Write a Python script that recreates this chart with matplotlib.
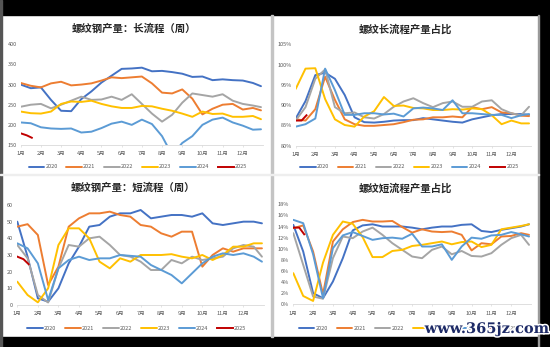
"""
Rebar weekly output dashboard: long process / short process (2x2 panels)
"""

import numpy as np
import matplotlib
matplotlib.use("Agg")
import matplotlib.pyplot as plt
from matplotlib.patches import Rectangle
from matplotlib import patheffects

plt.rcParams["font.family"] = ["Noto Sans CJK SC", "DejaVu Sans"]

# ---------------------------------------------------------------------------
# DATA (half-month steps, x in months from 1月)
# ---------------------------------------------------------------------------
X = [0, 0.5, 1, 1.5, 2, 2.5, 3, 3.5, 4, 4.5, 5, 5.5, 6, 6.5, 7, 7.5, 8,
     8.5, 9, 9.5, 10, 10.5, 11, 11.5, 11.9]
X_2025 = [0, 0.3, 0.55]

YEARS = ["2020", "2021", "2022", "2023", "2024", "2025"]
COLORS = ["#4472C4", "#ED7D31", "#A5A5A5", "#FFC000", "#5B9BD5", "#C00000"]
MONTHS = [f"{m}月" for m in range(1, 13)]

# long process output
long_2020 = [300, 291, 293, 262, 235, 234, 264, 283, 305, 322, 339, 340, 342,
             333, 334, 331, 327, 319, 320, 311, 313, 311, 310, 304, 296]
long_2021 = [304, 297, 293, 303, 307, 298, 300, 303, 310, 318, 316, 318, 320,
             303, 280, 278, 288, 265, 226, 240, 250, 252, 238, 242, 236]
long_2022 = [245, 250, 252, 241, 250, 260, 270, 262, 263, 270, 262, 276, 252,
             228, 208, 225, 255, 278, 274, 270, 276, 260, 252, 248, 244]
long_2023 = [233, 229, 228, 233, 252, 258, 257, 260, 252, 246, 242, 242, 247,
             246, 240, 235, 228, 220, 233, 227, 228, 220, 220, 222, 214]
long_2024 = [206, 204, 194, 191, 190, 191, 181, 183, 192, 203, 208, 200, 213,
             202, 172, 125, 155, 172, 200, 213, 218, 206, 198, 188, 189]
long_2025 = [179, 174, 168]

# long process share (%)
lshare_2020 = [86.7, 91.0, 97.4, 98.0, 96.5, 92.5, 87.0, 85.8, 85.7, 85.9, 86.2,
               86.3, 86.3, 86.8, 86.5, 86.2, 85.9, 85.7, 86.5, 87.0, 87.5, 87.8,
               87.8, 87.8, 87.6]
lshare_2021 = [86.5, 86.2, 89.0, 97.0, 91.3, 86.5, 85.3, 84.9, 84.9, 85.1, 85.3,
               85.8, 86.4, 86.5, 87.0, 87.0, 87.2, 87.0, 89.5, 89.0, 89.5, 88.2,
               88.0, 87.4, 87.3]
lshare_2022 = [86.2, 89.5, 96.5, 98.8, 89.5, 88.0, 88.2, 87.0, 86.7, 87.8, 89.6,
               90.9, 91.7, 90.5, 89.5, 90.5, 90.9, 89.6, 89.6, 90.9, 91.2, 89.0,
               88.0, 87.5, 89.6]
lshare_2023 = [94.0, 99.0, 99.1, 91.5, 86.5, 85.1, 84.7, 87.2, 88.5, 92.0, 89.8,
               89.9, 89.3, 89.2, 88.8, 88.8, 89.0, 88.9, 89.2, 89.0, 87.5, 85.3,
               86.2, 85.5, 85.5]
lshare_2024 = [84.7, 85.3, 86.7, 99.0, 93.7, 87.6, 87.6, 88.0, 88.0, 87.7, 87.9,
               87.2, 89.2, 89.4, 89.2, 88.8, 91.2, 88.0, 88.0, 87.8, 87.6, 87.6,
               86.8, 87.5, 87.8]
lshare_2025 = [86.2, 86.2, 87.5]

# short process output
short_2020 = [50, 29, 4, 2, 10, 25, 35, 47, 48, 53, 55, 55, 57, 52, 53, 54, 54,
              53, 55, 49, 48, 49, 50, 50, 49]
short_2021 = [47, 48.5, 42, 12, 23, 47, 52, 55, 55, 56, 54, 53, 48, 47, 43, 41,
              44, 44, 23, 30, 34, 32, 34, 34, 34]
short_2022 = [36, 28, 6, 1.5, 22, 36, 35, 40, 41, 36, 30, 29, 26, 21, 21, 27,
              25, 29, 27, 28, 29, 34, 36, 35, 29]
short_2023 = [14, 6, 1.6, 10, 36, 46, 46, 40, 26, 22, 28, 26, 30, 30, 30, 30.5,
              29, 28, 30, 27, 30, 35, 35, 37, 37]
short_2024 = [37, 34, 25, 3, 22, 27, 29, 27, 28, 28, 30, 29.5, 29, 24, 21, 18,
              13, 19, 25, 29, 31, 30, 31, 29, 26]
short_2025 = [29, 27.5, 24.5]

# short process share (%)
sshare_2020 = [14.3, 9.5, 2.0, 1.1, 4.1, 8.3, 13.3, 14.2, 14.4, 14.0, 14.0,
               14.0, 13.8, 13.5, 13.8, 14.0, 14.0, 14.3, 14.4, 13.2, 13.0, 13.4,
               13.7, 14.0, 14.4]
sshare_2021 = [13.7, 14.2, 9.5, 1.8, 11.3, 13.5, 14.8, 15.2, 14.9, 14.9, 15.0,
               13.9, 12.9, 13.5, 13.1, 13.0, 13.1, 12.5, 9.7, 11.0, 10.8, 12.2,
               12.3, 12.8, 12.5]
sshare_2022 = [12.8, 7.1, 1.4, 1.0, 8.3, 12.2, 11.9, 13.1, 13.8, 12.5, 11.0,
               9.8, 8.6, 8.3, 9.8, 10.4, 9.0, 9.6, 8.7, 8.6, 9.2, 10.7, 11.9,
               12.5, 10.7]
sshare_2023 = [5.6, 1.5, 0.6, 7.5, 12.5, 14.9, 14.5, 12.1, 8.5, 8.5, 9.6, 9.8,
               10.5, 10.7, 11.0, 11.3, 10.8, 11.2, 11.3, 10.3, 10.7, 13.5, 13.8,
               14.1, 14.4]
sshare_2024 = [15.2, 14.6, 9.0, 1.1, 10.1, 12.4, 13.0, 12.3, 11.6, 11.9, 12.0,
               11.8, 12.7, 10.4, 10.4, 10.8, 8.0, 10.4, 12.0, 11.8, 12.4, 12.5,
               13.0, 12.6, 12.2]
sshare_2025 = [13.8, 13.8, 12.6]

# ---------------------------------------------------------------------------
# FIGURE / PANEL LAYOUT (pixel based, 550x347)
# ---------------------------------------------------------------------------
W, H = 550, 347
fig = plt.figure(figsize=(W / 100, H / 100), dpi=100, facecolor="white")


def px_rect(x0, y0, x1, y1):
    # pixel box (top-left origin) -> figure fraction [left, bottom, w, h]
    return [x0 / W, 1 - y1 / H, (x1 - x0) / W, (y1 - y0) / H]


# black frame around the screenshot
for box in [(0, 0, W, 15), (0, 337, W, H), (539, 0, W, H)]:
    fig.add_artist(Rectangle(px_rect(*box)[:2], *px_rect(*box)[2:],
                             transform=fig.transFigure, color="black", zorder=0))
fig.add_artist(Rectangle((0, 0), 1.5 / W, 1, transform=fig.transFigure,
                         color="#555555", zorder=0))
fig.add_artist(Rectangle((538 / W, 0), 1.2 / W, 1 - 15 / H, transform=fig.transFigure,
                         color="#9a9a9a", zorder=0))
# panel separators
fig.add_artist(Rectangle((271 / W, 10 / H), 1.5 / W, 1 - 25 / H,
                         transform=fig.transFigure, color="#c4c4c4", zorder=0))
fig.add_artist(Rectangle((0, 1 - 175 / H), 539 / W, 1 / H,
                         transform=fig.transFigure, color="#eeeeee", zorder=0))

panels = [
    # (plot box px, title, title pos, legend y, series, 2025, ylim, yticks, fmt)
    ((20.7, 44.3, 263, 145), "螺纹钢产量：长流程（周）", (134, 29), 167,
     [long_2020, long_2021, long_2022, long_2023, long_2024], long_2025,
     (150, 400), range(150, 401, 50), "{:.0f}"),
    ((295.7, 44.3, 531, 145.7), "螺纹长流程产量占比", (405, 29), 167,
     [lshare_2020, lshare_2021, lshare_2022, lshare_2023, lshare_2024], lshare_2025,
     (80, 105), range(80, 106, 5), "{:.0f}%"),
    ((17.3, 205, 264, 305), "螺纹钢产量：短流程（周）", (133, 188), 328,
     [short_2020, short_2021, short_2022, short_2023, short_2024], short_2025,
     (0, 60), range(0, 61, 10), "{:.0f}"),
    ((293.3, 204.3, 531, 304.3), "螺纹短流程产量占比", (405, 188), 328,
     [sshare_2020, sshare_2021, sshare_2022, sshare_2023, sshare_2024], sshare_2025,
     (0, 18), range(0, 19, 2), "{:.0f}%"),
]

for box, title, tpos, leg_y, series, s2025, ylim, yticks, fmt in panels:
    ax = fig.add_axes(px_rect(*box))
    ax.set_facecolor("none")

    for year, color, vals in zip(YEARS[:5], COLORS[:5], series):
        ax.plot(X, vals, color=color, lw=1.4, label=year, solid_capstyle="round")
    ax.plot(X_2025, s2025, color=COLORS[5], lw=1.4, label=YEARS[5])

    ax.set_xlim(0, 12)
    ax.set_ylim(*ylim)
    ax.set_xticks(range(12))
    ax.set_xticklabels(MONTHS)
    ax.set_yticks(list(yticks))
    ax.set_yticklabels([fmt.format(v) for v in yticks])
    for side in ["top", "right", "left"]:
        ax.spines[side].set_visible(False)
    ax.spines["bottom"].set_color("#D9D9D9")
    ax.spines["bottom"].set_linewidth(0.6)
    ax.tick_params(axis="x", length=1.5, width=0.5, color="#D9D9D9",
                   labelsize=4, labelcolor="#595959", pad=3)
    ax.tick_params(axis="y", length=0, labelsize=4, labelcolor="#595959", pad=3)

    fig.text(tpos[0] / W, 1 - tpos[1] / H, title, ha="center", va="center",
             fontsize=7.5, fontweight="bold", color="#262626")

    ax.legend(ncol=6, loc="center", frameon=False, fontsize=4,
              bbox_to_anchor=(((box[0] + box[2]) / 2 - 4) / W, 1 - leg_y / H),
              bbox_transform=fig.transFigure, handlelength=2.8,
              handletextpad=0.2, columnspacing=1.6, labelcolor="#595959")

# watermark in the bottom-right corner
fig.text(487 / W, 1 - 329 / H, "www.365jz.com", ha="center", va="center",
         fontsize=10.5, fontweight="bold", family="DejaVu Serif", color="#1d2a66",
         path_effects=[patheffects.withStroke(linewidth=2.2, foreground="white")],
         zorder=10)

plt.savefig("out.png", dpi=100, facecolor="white")
plt.close()
